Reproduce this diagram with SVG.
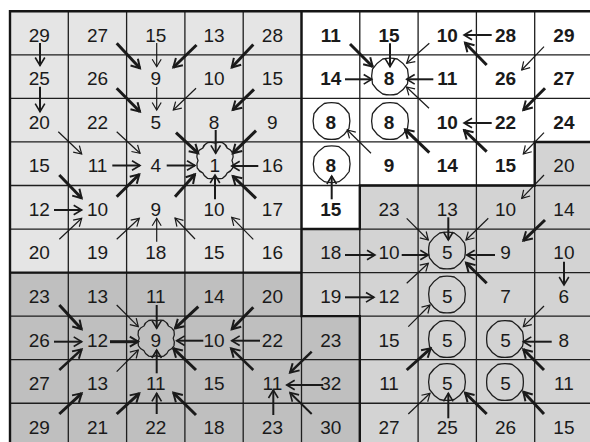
<svg xmlns="http://www.w3.org/2000/svg" xmlns:xlink="http://www.w3.org/1999/xlink" width="590" height="442" viewBox="0 0 590 442">
<style>
.n{font-family:"Liberation Sans",Arial,Helvetica,sans-serif;font-size:19px;text-anchor:middle;fill:#1a1a1a}
.b{font-weight:bold}
.g{stroke:#1e1e1e;stroke-width:1.3;fill:none}
.bd{stroke:#151515;stroke-width:2.4;fill:none}
.o{fill:none;stroke:#1e1e1e;stroke-width:1.3;stroke-linejoin:round}
#arrows line{stroke:#1a1a1a;fill:none}
.k{stroke-width:3;marker-end:url(#hk)}
.mk{stroke-width:2.5;marker-end:url(#hk)}
.m{stroke-width:2;marker-end:url(#hm)}
.t{stroke-width:1.2;marker-end:url(#ht)}
</style>
<defs>
<marker id="hk" markerUnits="userSpaceOnUse" viewBox="-11 -7 13 14" markerWidth="13" markerHeight="14" refX="0" refY="0" orient="auto"><path d="M-8.5,-5 L0,0 L-8.5,5" fill="none" stroke="#1a1a1a" stroke-width="2"/></marker>
<marker id="hm" markerUnits="userSpaceOnUse" viewBox="-11 -7 13 14" markerWidth="13" markerHeight="14" refX="0" refY="0" orient="auto"><path d="M-8,-4.8 L0,0 L-8,4.8" fill="none" stroke="#1a1a1a" stroke-width="1.6"/></marker>
<marker id="ht" markerUnits="userSpaceOnUse" viewBox="-11 -7 13 14" markerWidth="13" markerHeight="14" refX="0" refY="0" orient="auto"><path d="M-7.5,-4.5 L0,0 L-7.5,4.5" fill="none" stroke="#1a1a1a" stroke-width="1.2"/></marker>
<path id="oct" d="M17.5,-7.3 Q19.3,0 17.5,7.3 Q13.6,13.6 7.3,17.5 Q0,19.3 -7.3,17.5 Q-13.6,13.6 -17.5,7.3 Q-19.3,0 -17.5,-7.3 Q-13.6,-13.6 -7.3,-17.5 Q0,-19.3 7.3,-17.5 Q13.6,-13.6 17.5,-7.3 Z"/>
<path id="wob" d="M17,0 Q18.8,3.6 17.8,7.4 Q15.8,11.2 12.3,12.3 Q11.2,15.8 7.4,17.8 Q3.6,18.8 0,17.4 Q-3.6,18.8 -7.4,17.8 Q-11.2,15.8 -12.3,12.3 Q-15.8,11.2 -17.8,7.4 Q-18.8,3.6 -17,0 Q-18.8,-3.6 -17.8,-7.4 Q-15.8,-11.2 -12.3,-12.3 Q-11.2,-15.8 -7.4,-17.8 Q-3.6,-18.8 0,-17.4 Q3.6,-18.8 7.4,-17.8 Q11.2,-15.8 12.3,-12.3 Q15.8,-11.2 17.8,-7.4 Q18.8,-3.6 17,0 Z"/>
</defs>

<g id="background">
<rect x="10" y="11.3" width="291.5" height="261.3" fill="#e5e5e5"/>
<polygon points="301.5,11.3 593,11.3 593,141.95 534.7,141.95 534.7,185.5 359.8,185.5 359.8,229.05 301.5,229.05" fill="#ffffff"/>
<polygon points="10,272.6 301.5,272.6 301.5,316.15 359.8,316.15 359.8,447 10,447" fill="#bfbfbf"/>
<polygon points="593,141.95 593,447 359.8,447 359.8,316.15 301.5,316.15 301.5,229.05 359.8,229.05 359.8,185.5 534.7,185.5 534.7,141.95" fill="#d3d3d3"/>
</g>

<g id="grid">
<path class="g" d="M68.3,11.3V447M126.6,11.3V447M184.9,11.3V447M243.2,11.3V447M301.5,11.3V447M359.8,11.3V447M418.1,11.3V447M476.4,11.3V447M534.7,11.3V447M10,54.85H593M10,98.4H593M10,141.95H593M10,185.5H593M10,229.05H593M10,272.6H593M10,316.15H593M10,359.7H593M10,403.25H593"/>
<path class="bd" d="M10,447V11.3H593"/>
<path class="bd" d="M301.5,11.3V316.15H359.8V447M10,272.6H301.5M301.5,229.05H359.8V185.5H534.7V141.95H593"/>
</g>

<g id="arrows">
<line class="k" x1="116.7" y1="43.3" x2="140" y2="68.3"/>
<line class="k" x1="196.5" y1="45" x2="173.3" y2="67.5"/>
<line class="k" x1="253.3" y1="44.5" x2="231.7" y2="67.5"/>
<line class="k" x1="350" y1="44" x2="372.7" y2="66.7"/>
<line class="k" x1="116.7" y1="88.3" x2="140" y2="111.7"/>
<line class="k" x1="254" y1="89.3" x2="232.7" y2="110"/>
<line class="k" x1="486.7" y1="65" x2="465" y2="42.7"/>
<line class="k" x1="545" y1="88.3" x2="523.3" y2="110"/>
<line class="k" x1="176" y1="132.7" x2="198.3" y2="153.3"/>
<line class="k" x1="256" y1="130.7" x2="232.7" y2="153.3"/>
<line class="k" x1="59.3" y1="175" x2="81.7" y2="198.3"/>
<line class="k" x1="429.3" y1="152.7" x2="405" y2="129.3"/>
<line class="k" x1="486.7" y1="151.7" x2="464" y2="130"/>
<line class="k" x1="116.7" y1="196.7" x2="139.3" y2="174.3"/>
<line class="k" x1="175" y1="196.7" x2="195" y2="174.3"/>
<line class="k" x1="256" y1="198.3" x2="232.7" y2="176"/>
<line class="k" x1="545" y1="220" x2="523.3" y2="240.7"/>
<line class="k" x1="59.3" y1="305" x2="81.7" y2="329.3"/>
<line class="k" x1="198.3" y1="306.7" x2="175" y2="328.3"/>
<line class="k" x1="253.3" y1="307.3" x2="231.7" y2="329.3"/>
<line class="k" x1="486.7" y1="283.3" x2="466" y2="262.7"/>
<line class="k" x1="110" y1="341.7" x2="138.3" y2="341.7"/>
<line class="k" x1="196" y1="370" x2="173.3" y2="348.3"/>
<line class="k" x1="406.7" y1="370" x2="430.7" y2="348.3"/>
<line class="k" x1="544" y1="370" x2="523.3" y2="349.3"/>
<line class="k" x1="59.3" y1="414" x2="81.7" y2="393.3"/>
<line class="k" x1="116.7" y1="414" x2="139.3" y2="393.3"/>
<line class="k" x1="196" y1="415" x2="173.3" y2="392.7"/>
<line class="k" x1="486.7" y1="414" x2="465" y2="392.7"/>
<line class="k" x1="544" y1="414" x2="523.3" y2="391.7"/>
<line class="mk" x1="311.7" y1="351.7" x2="290" y2="372.7"/>
<line class="mk" x1="59.3" y1="370" x2="81.7" y2="349.3"/>
<line class="mk" x1="253.3" y1="370" x2="231" y2="348.3"/>
<line class="m" x1="40" y1="43" x2="40" y2="65.5"/>
<line class="m" x1="40" y1="86.7" x2="40" y2="111.7"/>
<line class="m" x1="390" y1="43.3" x2="390" y2="66.7"/>
<line class="m" x1="491.7" y1="35" x2="464" y2="35"/>
<line class="m" x1="345" y1="79.3" x2="371.7" y2="79.3"/>
<line class="m" x1="433.3" y1="79.3" x2="406.7" y2="79.3"/>
<line class="m" x1="215.7" y1="130" x2="215.7" y2="153.3"/>
<line class="m" x1="491.7" y1="123" x2="464" y2="123"/>
<line class="m" x1="112.3" y1="165.5" x2="140" y2="165.5"/>
<line class="m" x1="166.7" y1="165.5" x2="195" y2="165.5"/>
<line class="m" x1="258.3" y1="166" x2="231.7" y2="166"/>
<line class="m" x1="54" y1="210" x2="81.7" y2="210"/>
<line class="m" x1="215" y1="199.3" x2="215" y2="175"/>
<line class="m" x1="331.7" y1="199.3" x2="331.7" y2="176"/>
<line class="m" x1="448.3" y1="217.3" x2="448.3" y2="240"/>
<line class="m" x1="345" y1="255" x2="375" y2="255"/>
<line class="m" x1="401.7" y1="255" x2="428.3" y2="255"/>
<line class="m" x1="495" y1="255" x2="466.7" y2="255"/>
<line class="m" x1="564" y1="261.7" x2="564" y2="285"/>
<line class="m" x1="156.7" y1="305" x2="156.7" y2="328.3"/>
<line class="m" x1="345" y1="297.3" x2="374" y2="297.3"/>
<line class="m" x1="54" y1="341.7" x2="81.7" y2="341.7"/>
<line class="m" x1="203.3" y1="340.7" x2="176.7" y2="340.7"/>
<line class="m" x1="260" y1="340.7" x2="231.7" y2="340.7"/>
<line class="m" x1="551.7" y1="341.7" x2="523.3" y2="341.7"/>
<line class="m" x1="156.7" y1="373.3" x2="156.7" y2="350"/>
<line class="m" x1="323.3" y1="385" x2="286.7" y2="385"/>
<line class="m" x1="156.7" y1="414" x2="156.7" y2="393.3"/>
<line class="m" x1="273.3" y1="415" x2="273.3" y2="390"/>
<line class="m" x1="311.7" y1="414" x2="290" y2="392.7"/>
<line class="m" x1="448.3" y1="418.3" x2="448.3" y2="393.3"/>
<line class="t" x1="156.7" y1="43" x2="156.7" y2="66.7"/>
<line class="t" x1="429.3" y1="43.3" x2="406.7" y2="63.3"/>
<line class="t" x1="544" y1="46.7" x2="521.7" y2="70"/>
<line class="t" x1="156.7" y1="87" x2="156.7" y2="110"/>
<line class="t" x1="196" y1="88.3" x2="173.3" y2="110"/>
<line class="t" x1="58.3" y1="131.7" x2="81.7" y2="154"/>
<line class="t" x1="116.7" y1="131.7" x2="140" y2="153.3"/>
<line class="t" x1="429" y1="108.3" x2="406.5" y2="87"/>
<line class="t" x1="544" y1="132.7" x2="523.3" y2="154"/>
<line class="t" x1="371" y1="153.3" x2="347.3" y2="130"/>
<line class="t" x1="544" y1="175" x2="521.7" y2="198.3"/>
<line class="t" x1="406.7" y1="218.3" x2="428.3" y2="240"/>
<line class="t" x1="488.3" y1="218.3" x2="466" y2="240"/>
<line class="t" x1="59.3" y1="239.3" x2="81.7" y2="218.3"/>
<line class="t" x1="116.7" y1="239.3" x2="139.3" y2="218.3"/>
<line class="t" x1="156.7" y1="241.7" x2="156.7" y2="218.3"/>
<line class="t" x1="195" y1="239" x2="175" y2="218"/>
<line class="t" x1="253.3" y1="239.3" x2="231.7" y2="217.3"/>
<line class="t" x1="116.7" y1="305" x2="138.3" y2="326.7"/>
<line class="t" x1="406.7" y1="283.3" x2="428.3" y2="263.3"/>
<line class="t" x1="544" y1="306" x2="523.3" y2="326.7"/>
<line class="t" x1="408.3" y1="326.7" x2="430" y2="305"/>
<line class="t" x1="116.7" y1="371.7" x2="138.3" y2="350"/>
<line class="t" x1="408.3" y1="414" x2="430" y2="393.3"/>
</g>

<g id="nodes">
<g id="n0-0"><text class="n" x="39.2" y="41.7">29</text></g>
<g id="n0-1"><text class="n" x="97.5" y="41.7">27</text></g>
<g id="n0-2"><text class="n" x="155.8" y="41.7">15</text></g>
<g id="n0-3"><text class="n" x="214.1" y="41.7">13</text></g>
<g id="n0-4"><text class="n" x="272.4" y="41.7">28</text></g>
<g id="n0-5"><text class="n b" x="330.7" y="41.7">11</text></g>
<g id="n0-6"><text class="n b" x="389" y="41.7">15</text></g>
<g id="n0-7"><text class="n b" x="447.3" y="41.7">10</text></g>
<g id="n0-8"><text class="n b" x="505.6" y="41.7">28</text></g>
<g id="n0-9"><text class="n b" x="563.9" y="41.7">29</text></g>

<g id="n1-0"><text class="n" x="39.2" y="85.2">25</text></g>
<g id="n1-1"><text class="n" x="97.5" y="85.2">26</text></g>
<g id="n1-2"><text class="n" x="155.8" y="85.2">9</text></g>
<g id="n1-3"><text class="n" x="214.1" y="85.2">10</text></g>
<g id="n1-4"><text class="n" x="272.4" y="85.2">15</text></g>
<g id="n1-5"><text class="n b" x="330.7" y="85.2">14</text></g>
<g id="n1-6"><use xlink:href="#oct" href="#oct" class="o" x="390" y="76.5"/><text class="n b" x="389" y="85.2">8</text></g>
<g id="n1-7"><text class="n b" x="447.3" y="85.2">11</text></g>
<g id="n1-8"><text class="n b" x="505.6" y="85.2">26</text></g>
<g id="n1-9"><text class="n b" x="563.9" y="85.2">27</text></g>

<g id="n2-0"><text class="n" x="39.2" y="128.8">20</text></g>
<g id="n2-1"><text class="n" x="97.5" y="128.8">22</text></g>
<g id="n2-2"><text class="n" x="155.8" y="128.8">5</text></g>
<g id="n2-3"><text class="n" x="214.1" y="128.8">8</text></g>
<g id="n2-4"><text class="n" x="272.4" y="128.8">9</text></g>
<g id="n2-5"><use xlink:href="#oct" href="#oct" class="o" x="331.5" y="121"/><text class="n b" x="330.7" y="128.8">8</text></g>
<g id="n2-6"><use xlink:href="#oct" href="#oct" class="o" x="390" y="121"/><text class="n b" x="389" y="128.8">8</text></g>
<g id="n2-7"><text class="n b" x="447.3" y="128.8">10</text></g>
<g id="n2-8"><text class="n b" x="505.6" y="128.8">22</text></g>
<g id="n2-9"><text class="n b" x="563.9" y="128.8">24</text></g>

<g id="n3-0"><text class="n" x="39.2" y="172.3">15</text></g>
<g id="n3-1"><text class="n" x="97.5" y="172.3">11</text></g>
<g id="n3-2"><text class="n" x="155.8" y="172.3">4</text></g>
<g id="n3-3"><use xlink:href="#wob" href="#wob" class="o" x="215" y="160.5"/><text class="n" x="214.8" y="172.3">1</text></g>
<g id="n3-4"><text class="n" x="272.4" y="172.3">16</text></g>
<g id="n3-5"><use xlink:href="#oct" href="#oct" class="o" x="331.7" y="164.2"/><text class="n b" x="330.7" y="172.3">8</text></g>
<g id="n3-6"><text class="n b" x="389" y="172.3">9</text></g>
<g id="n3-7"><text class="n b" x="447.3" y="172.3">14</text></g>
<g id="n3-8"><text class="n b" x="505.6" y="172.3">15</text></g>
<g id="n3-9"><text class="n" x="563.9" y="172.3">20</text></g>

<g id="n4-0"><text class="n" x="39.2" y="215.9">12</text></g>
<g id="n4-1"><text class="n" x="97.5" y="215.9">10</text></g>
<g id="n4-2"><text class="n" x="155.8" y="215.9">9</text></g>
<g id="n4-3"><text class="n" x="214.1" y="215.9">10</text></g>
<g id="n4-4"><text class="n" x="272.4" y="215.9">17</text></g>
<g id="n4-5"><text class="n b" x="330.7" y="215.9">15</text></g>
<g id="n4-6"><text class="n" x="389" y="215.9">23</text></g>
<g id="n4-7"><text class="n" x="447.3" y="215.9">13</text></g>
<g id="n4-8"><text class="n" x="505.6" y="215.9">10</text></g>
<g id="n4-9"><text class="n" x="563.9" y="215.9">14</text></g>

<g id="n5-0"><text class="n" x="39.2" y="259.4">20</text></g>
<g id="n5-1"><text class="n" x="97.5" y="259.4">19</text></g>
<g id="n5-2"><text class="n" x="155.8" y="259.4">18</text></g>
<g id="n5-3"><text class="n" x="214.1" y="259.4">15</text></g>
<g id="n5-4"><text class="n" x="272.4" y="259.4">16</text></g>
<g id="n5-5"><text class="n" x="330.7" y="259.4">18</text></g>
<g id="n5-6"><text class="n" x="389" y="259.4">10</text></g>
<g id="n5-7"><use xlink:href="#oct" href="#oct" class="o" x="447" y="250.5"/><text class="n" x="447.3" y="259.4">5</text></g>
<g id="n5-8"><text class="n" x="505.6" y="259.4">9</text></g>
<g id="n5-9"><text class="n" x="563.9" y="259.4">10</text></g>

<g id="n6-0"><text class="n" x="39.2" y="303">23</text></g>
<g id="n6-1"><text class="n" x="97.5" y="303">13</text></g>
<g id="n6-2"><text class="n" x="155.8" y="303">11</text></g>
<g id="n6-3"><text class="n" x="214.1" y="303">14</text></g>
<g id="n6-4"><text class="n" x="272.4" y="303">20</text></g>
<g id="n6-5"><text class="n" x="330.7" y="303">19</text></g>
<g id="n6-6"><text class="n" x="389" y="303">12</text></g>
<g id="n6-7"><use xlink:href="#oct" href="#oct" class="o" x="447" y="294.5"/><text class="n" x="447.3" y="303">5</text></g>
<g id="n6-8"><text class="n" x="505.6" y="303">7</text></g>
<g id="n6-9"><text class="n" x="563.9" y="303">6</text></g>

<g id="n7-0"><text class="n" x="39.2" y="346.5">26</text></g>
<g id="n7-1"><text class="n" x="97.5" y="346.5">12</text></g>
<g id="n7-2"><use xlink:href="#wob" href="#wob" class="o" x="156.2" y="338.3"/><text class="n" x="155.8" y="346.5">9</text></g>
<g id="n7-3"><text class="n" x="214.1" y="346.5">10</text></g>
<g id="n7-4"><text class="n" x="272.4" y="346.5">22</text></g>
<g id="n7-5"><text class="n" x="330.7" y="346.5">23</text></g>
<g id="n7-6"><text class="n" x="389" y="346.5">15</text></g>
<g id="n7-7"><use xlink:href="#oct" href="#oct" class="o" x="447" y="339"/><text class="n" x="447.3" y="346.5">5</text></g>
<g id="n7-8"><use xlink:href="#oct" href="#oct" class="o" x="505" y="339"/><text class="n" x="505.6" y="346.5">5</text></g>
<g id="n7-9"><text class="n" x="563.9" y="346.5">8</text></g>

<g id="n8-0"><text class="n" x="39.2" y="390.1">27</text></g>
<g id="n8-1"><text class="n" x="97.5" y="390.1">13</text></g>
<g id="n8-2"><text class="n" x="155.8" y="390.1">11</text></g>
<g id="n8-3"><text class="n" x="214.1" y="390.1">15</text></g>
<g id="n8-4"><text class="n" x="272.4" y="390.1">11</text></g>
<g id="n8-5"><text class="n" x="330.7" y="390.1">32</text></g>
<g id="n8-6"><text class="n" x="389" y="390.1">11</text></g>
<g id="n8-7"><use xlink:href="#oct" href="#oct" class="o" x="447" y="382"/><text class="n" x="447.3" y="390.1">5</text></g>
<g id="n8-8"><use xlink:href="#oct" href="#oct" class="o" x="505" y="382"/><text class="n" x="505.6" y="390.1">5</text></g>
<g id="n8-9"><text class="n" x="563.9" y="390.1">11</text></g>

<g id="n9-0"><text class="n" x="39.2" y="433.6">29</text></g>
<g id="n9-1"><text class="n" x="97.5" y="433.6">21</text></g>
<g id="n9-2"><text class="n" x="155.8" y="433.6">22</text></g>
<g id="n9-3"><text class="n" x="214.1" y="433.6">18</text></g>
<g id="n9-4"><text class="n" x="272.4" y="433.6">23</text></g>
<g id="n9-5"><text class="n" x="330.7" y="433.6">30</text></g>
<g id="n9-6"><text class="n" x="389" y="433.6">27</text></g>
<g id="n9-7"><text class="n" x="447.3" y="433.6">25</text></g>
<g id="n9-8"><text class="n" x="505.6" y="433.6">26</text></g>
<g id="n9-9"><text class="n" x="563.9" y="433.6">15</text></g>
</g>
</svg>
